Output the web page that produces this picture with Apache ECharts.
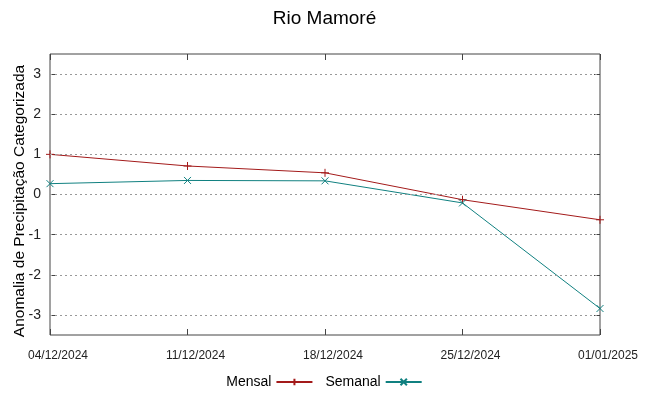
<!DOCTYPE html>
<html>
<head>
<meta charset="utf-8">
<script src="https://cdn.jsdelivr.net/npm/echarts@6/dist/echarts.min.js"></script>
<style>
  html, body { margin: 0; padding: 0; background: #fff; }
  #main { width: 649px; height: 396px; }
</style>
</head>
<body>
<div id="main"></div>
<script>
var titleText = 'Rio Mamoré';
var yName = 'Anomalia de Precipitação Categorizada';
var dates = ['04/12/2024', '11/12/2024', '18/12/2024', '25/12/2024', '01/01/2025'];
var mensal = [1.0, 0.71, 0.54, -0.13, -0.63];
var semanal = [0.27, 0.35, 0.34, -0.21, -2.84];
var yTicks = [-3, -2, -1, 0, 1, 2, 3];

var redColor = '#a31a1a';
var tealColor = '#108080';
var plusPath = 'path://M0,5L10,5M5,0L5,10';
var crossPath = 'path://M0,0L10,10M10,0L0,10';

var chart = echarts.init(document.getElementById('main'));

var gridLines = yTicks.map(function (v) { return { yAxis: v }; });
var tickStyle = { color: '#444' };

chart.setOption({
  animation: false,
  textStyle: { fontFamily: 'Liberation Sans' },
  title: {
    text: titleText,
    left: 'center',
    top: 4,
    textStyle: { fontSize: 19, fontWeight: 'normal', color: '#000', fontFamily: 'Liberation Sans' }
  },
  grid: {
    left: 50, right: 49, top: 54, bottom: 61,
    outerBoundsMode: 'none',
    containLabel: false,
    show: true, borderColor: '#444', borderWidth: 1, backgroundColor: 'transparent'
  },
  legend: {
    bottom: 2,
    left: 'center',
    align: 'right',
    itemWidth: 36,
    itemHeight: 8,
    itemGap: 12,
    textStyle: { fontSize: 14, color: '#000', fontFamily: 'Liberation Sans' },
    data: ['Mensal', 'Semanal']
  },
  xAxis: [{
    type: 'category',
    data: dates,
    boundaryGap: false,
    axisLine: { show: false, onZero: false },
    axisTick: { show: true, inside: true, length: 6, lineStyle: tickStyle },
    axisLabel: { fontSize: 12, color: '#222', margin: 15, padding: [0, 0, 0, 16], fontFamily: 'Liberation Sans' },
    splitLine: { show: false }
  }, {
    type: 'category',
    data: dates,
    position: 'top',
    boundaryGap: false,
    axisLine: { show: false, onZero: false },
    axisTick: { show: true, inside: true, length: 6, lineStyle: tickStyle },
    axisLabel: { show: false }
  }],
  yAxis: [{
    type: 'value',
    min: -3.5,
    max: 3.5,
    name: yName,
    nameLocation: 'middle',
    nameGap: 22,
    nameMoveOverlap: false,
    nameTextStyle: { fontSize: 15.5, color: '#000', fontFamily: 'Liberation Sans', padding: [0, 13, 0, 0] },
    axisLine: { show: false, onZero: false },
    axisTick: { show: true, inside: true, length: 6, customValues: yTicks, lineStyle: tickStyle },
    axisLabel: { fontSize: 14, color: '#222', margin: 9, customValues: yTicks },
    splitLine: { show: false }
  }, {
    type: 'value',
    min: -3.5,
    max: 3.5,
    position: 'right',
    axisLine: { show: false, onZero: false },
    axisTick: { show: true, inside: true, length: 6, customValues: yTicks, lineStyle: tickStyle },
    axisLabel: { show: false },
    splitLine: { show: false }
  }],
  series: [{
    name: 'Mensal',
    type: 'line',
    data: mensal,
    symbol: plusPath,
    symbolSize: 8,
    showSymbol: true,
    lineStyle: { color: redColor, width: 1 },
    itemStyle: { color: redColor, borderColor: redColor, borderWidth: 1 },
    markLine: {
      silent: true,
      symbol: 'none',
      label: { show: false },
      lineStyle: { color: '#999', type: [2, 3], width: 1 },
      data: gridLines
    },
    z: 3
  }, {
    name: 'Semanal',
    type: 'line',
    data: semanal,
    symbol: crossPath,
    symbolSize: 7,
    showSymbol: true,
    lineStyle: { color: tealColor, width: 1 },
    itemStyle: { color: tealColor, borderColor: tealColor, borderWidth: 1 },
    z: 3
  }]
});
</script>
</body>
</html>
